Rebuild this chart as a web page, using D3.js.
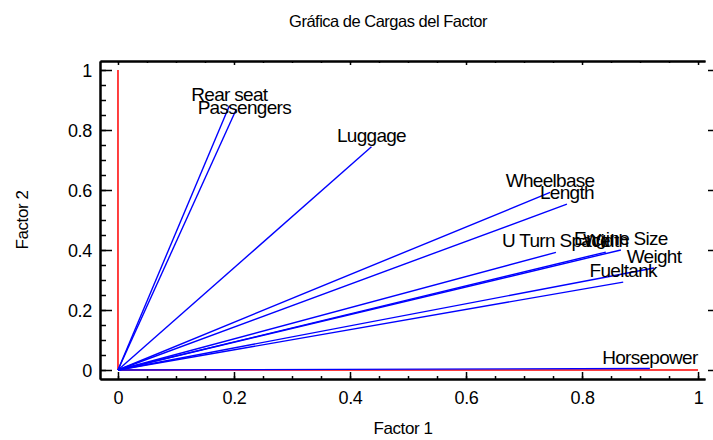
<!DOCTYPE html>
<html>
<head>
<meta charset="utf-8">
<script src="https://cdn.jsdelivr.net/npm/d3@7"></script>
<style>
  body { margin: 0; background: #fff; }
  svg { display: block; font-family: "Liberation Sans", Arial, sans-serif; }
  .frame path.domain { stroke: #000; stroke-width: 2; }
  .frame line { stroke: #000; stroke-width: 1.5; }
</style>
</head>
<body>
<svg class="js-graph"></svg>
<script>
  /* <DATA> */
  var variables = ['Rear seat', 'Passengers', 'Luggage', 'Wheelbase', 'Length',
    'U Turn Space', 'Engine Size', 'Width', 'Weight', 'Fueltank', 'Horsepower'];
  var factor1 = [0.192, 0.204, 0.437, 0.745, 0.774, 0.755, 0.867, 0.841, 0.924, 0.871, 0.917];
  var factor2 = [0.881, 0.869, 0.744, 0.592, 0.553, 0.392, 0.400, 0.393, 0.340, 0.293, 0.005];
  var majorTicks = [0, 0.2, 0.4, 0.6, 0.8, 1];
  var minorTicks = d3.range(0, 1.0001, 0.05);
  var chartTitle = 'Gráfica de Cargas del Factor';
  var xTitle = 'Factor 1';
  var yTitle = 'Factor 2';
  /* </DATA> */

  var width = 713;
  var height = 440;
  var svg = d3.select('.js-graph').attr('width', width).attr('height', height);

  var x = d3.scaleLinear().domain([-0.031, 1.012]).range([100, 705]);
  var y = d3.scaleLinear().domain([-0.03, 1.03]).range([379, 61]);
  var fmt = function (d) { return d3.format('~g')(d); };

  // small manual nudge for the one label that sits off its point
  var labelNudge = { Passengers: [8, 10] };

  // reference axes (red)
  svg.append('line')
    .attr('x1', x(0)).attr('y1', y(0)).attr('x2', x(0)).attr('y2', y(1))
    .attr('stroke', '#ff0000').attr('stroke-width', 1.5);
  svg.append('line')
    .attr('x1', x(0)).attr('y1', y(0)).attr('x2', x(1)).attr('y2', y(0))
    .attr('stroke', '#ff0000').attr('stroke-width', 1.5);

  // loading vectors
  var rows = variables.map(function (name, i) {
    return { name: name, f1: factor1[i], f2: factor2[i] };
  });

  svg.append('g').selectAll('line')
    .data(rows)
    .join('line')
    .attr('x1', x(0)).attr('y1', y(0))
    .attr('x2', function (d) { return x(d.f1); })
    .attr('y2', function (d) { return y(d.f2); })
    .attr('stroke', '#0000ff')
    .attr('stroke-width', 1.4);

  svg.append('g').selectAll('text')
    .data(rows)
    .join('text')
    .attr('x', function (d) { return x(d.f1) + (labelNudge[d.name] ? labelNudge[d.name][0] : 0); })
    .attr('y', function (d) { return y(d.f2) - 5 + (labelNudge[d.name] ? labelNudge[d.name][1] : 0); })
    .attr('text-anchor', 'middle')
    .attr('font-size', 19)
    .attr('letter-spacing', -0.7)
    .attr('fill', '#000')
    .text(function (d) { return d.name; });

  // FRAME + AXES
  var bottom = svg.append('g').attr('class', 'frame')
    .attr('transform', 'translate(0,379)')
    .call(d3.axisBottom(x).tickValues(majorTicks).tickSize(-7).tickSizeOuter(0)
      .tickPadding(12).tickFormat(fmt));
  svg.append('g').attr('class', 'frame')
    .attr('transform', 'translate(0,379)')
    .call(d3.axisBottom(x).tickValues(minorTicks).tickSize(-3).tickSizeOuter(0).tickFormat(''));

  var left = svg.append('g').attr('class', 'frame')
    .attr('transform', 'translate(100,0)')
    .call(d3.axisLeft(y).tickValues(majorTicks).tickSize(-12).tickSizeOuter(0)
      .tickPadding(8).tickFormat(fmt));
  svg.append('g').attr('class', 'frame')
    .attr('transform', 'translate(100,0)')
    .call(d3.axisLeft(y).tickValues(minorTicks).tickSize(-6).tickSizeOuter(0).tickFormat(''));

  svg.append('g').attr('class', 'frame')
    .attr('transform', 'translate(0,61)')
    .call(d3.axisTop(x).tickValues(majorTicks).tickSize(-4).tickSizeOuter(0).tickFormat(''));
  svg.append('g').attr('class', 'frame')
    .attr('transform', 'translate(0,61)')
    .call(d3.axisTop(x).tickValues(minorTicks).tickSize(-2).tickSizeOuter(0).tickFormat(''));

  var right = svg.append('g').attr('class', 'frame')
    .attr('transform', 'translate(708,0)')
    .call(d3.axisRight(y).tickValues(majorTicks).tickSize(5).tickSizeOuter(0).tickFormat(''));
  right.select('.domain').remove();

  [bottom, left].forEach(function (g) {
    g.selectAll('text')
      .attr('font-family', '"Liberation Sans", Arial, sans-serif')
      .attr('font-size', 18)
      .attr('letter-spacing', -0.3)
      .attr('fill', '#000');
  });
  left.selectAll('text').attr('dy', '0.35em');

  // TITLES
  svg.append('text')
    .attr('x', 388).attr('y', 27)
    .attr('text-anchor', 'middle')
    .attr('font-size', 16.5)
    .attr('letter-spacing', -0.5)
    .text(chartTitle);

  svg.append('text')
    .attr('x', 403).attr('y', 434)
    .attr('text-anchor', 'middle')
    .attr('font-size', 17)
    .attr('letter-spacing', -0.4)
    .text(xTitle);

  svg.append('text')
    .attr('transform', 'translate(28,220) rotate(-90)')
    .attr('text-anchor', 'middle')
    .attr('font-size', 17)
    .attr('letter-spacing', -0.4)
    .text(yTitle);
</script>
</body>
</html>
